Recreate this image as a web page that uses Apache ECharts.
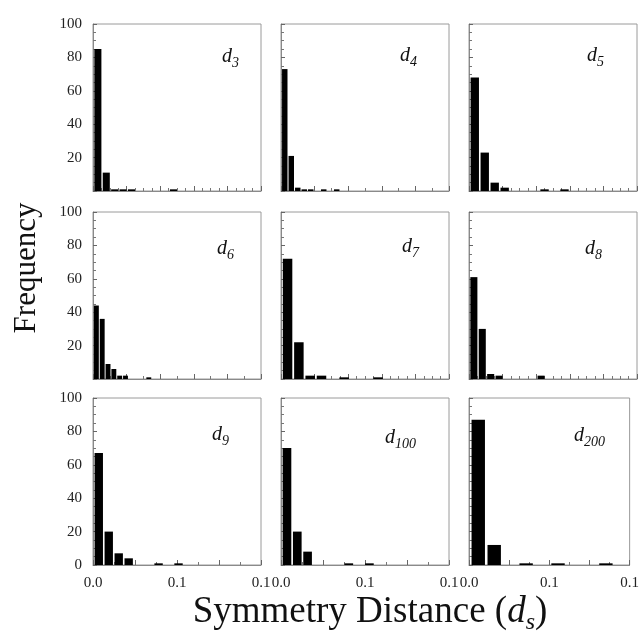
<!DOCTYPE html>
<html>
<head>
<meta charset="utf-8">
<script src="https://cdn.jsdelivr.net/npm/echarts@6/dist/echarts.min.js"></script>
<style>html,body{margin:0;padding:0;background:#fff}#c{width:642px;height:638px}</style>
</head>
<body>
<div id="c"></div>
<script>
// ---- data ----
const panelSubs = ['3', '4', '5', '6', '7', '8', '9', '100', '200'];
const binWidths = [0.0075, 0.0058, 0.0089, 0.0052, 0.0101, 0.0075, 0.0089, 0.0092, 0.0149];
const d3 = [85, 11, 1, 1, 1, 0, 0, 0, 0, 1];
const d4 = [73, 21, 2, 1, 1, 0, 1, 0, 1];
const d5 = [68, 23, 5, 2, 0, 0, 0, 1, 0, 1];
const d6 = [44, 36, 9, 6, 2, 2, 0, 0, 0, 1];
const d7 = [72, 22, 2, 2, 0, 1, 0, 0, 1];
const d8 = [61, 30, 3, 2, 0, 0, 0, 0, 2];
const d9 = [67, 20, 7, 4, 0, 0, 1, 0, 1];
const d100 = [70, 20, 8, 0, 0, 0, 1, 0, 1];
const d200 = [87, 12, 0, 1, 0, 1, 0, 0, 1];
const counts = [d3, d4, d5, d6, d7, d8, d9, d100, d200];
const xMin = 0, xMax = 0.15;
const xLabelValues = [0, 0.075, 0.15];
const xTickLabels = ['0.0', '0.1', '0.1'];
const yMin = 0, yMax = 100, yInterval = 20;
const xTickIntervals = [0.03, 0.03, 0.03, 0.03, 0.03, 0.03, 0.0375, 0.0375, 0.0375];
const xMinorSplits = [4, 2, 4, 2, 4, 4, 2, 2, 2];

// ---- layout ----
const colLeft = [93, 281, 469];
const rowTop = [24, 212, 398];
const pw = 168, ph = 167;
const labelPos = [[129, 34], [119, 33], [118, 33], [124, 38], [121, 36], [116, 38], [119, 38], [104, 41], [105, 39]];
const serif = 'Liberation Serif';

const grids = [], xAxes = [], yAxes = [], series = [], graphics = [];
for (let k = 0; k < 9; k++) {
  const r = Math.floor(k / 3), c = k % 3;
  grids.push({left: colLeft[c], top: rowTop[r], width: pw, height: ph, show: true,
    borderColor: '#9a9a9a', borderWidth: 1, backgroundColor: 'transparent'});
  xAxes.push({
    type: 'value', gridIndex: k, min: xMin, max: xMax, interval: xTickIntervals[k],
    axisLine: {show: true, onZero: false, lineStyle: {color: '#8a8a8a', width: 1}},
    axisTick: {show: true, inside: true, length: 5, lineStyle: {color: '#666'}},
    minorTick: {show: true, splitNumber: xMinorSplits[k], length: 3, lineStyle: {color: '#777'}},
    splitLine: {show: false}, minorSplitLine: {show: false},
    axisLabel: {show: r === 2, customValues: xLabelValues,
      formatter: v => xTickLabels[xLabelValues.findIndex(t => Math.abs(t - v) < 1e-9)] || '',
      fontFamily: serif, fontSize: 15, color: '#222', margin: 11}
  });
  yAxes.push({
    type: 'value', gridIndex: k, min: yMin, max: yMax, interval: yInterval,
    axisLine: {show: true, lineStyle: {color: '#8a8a8a', width: 1}},
    axisTick: {show: true, inside: true, length: 4, lineStyle: {color: '#666'}},
    minorTick: {show: true, splitNumber: 4, length: 3, lineStyle: {color: '#777'}},
    splitLine: {show: false}, minorSplitLine: {show: false},
    axisLabel: {show: c === 0, showMinLabel: r === 2, fontFamily: serif, fontSize: 15,
      color: '#222', margin: 11}
  });
  const w = binWidths[k];
  series.push({
    type: 'custom', xAxisIndex: k, yAxisIndex: k, clip: true,
    data: counts[k].map((v, i) => [i, v]),
    renderItem: function (params, api) {
      const i = api.value(0), v = api.value(1);
      const p0 = api.coord([i * w, v]);
      const p1 = api.coord([(i + 1) * w, 0]);
      const bw = p1[0] - p0[0];
      return {type: 'rect', shape: {x: p0[0] + bw * 0.16, y: p0[1], width: bw * 0.84, height: p1[1] - p0[1]},
        style: {fill: '#000'}};
    }
  });
  graphics.push({
    type: 'text', x: colLeft[c] + labelPos[k][0], y: rowTop[r] + labelPos[k][1],
    style: {
      text: '{i|d}{s|' + panelSubs[k] + '}',
      align: 'left', verticalAlign: 'middle',
      rich: {
        i: {fontFamily: serif, fontStyle: 'italic', fontSize: 20, lineHeight: 22, verticalAlign: 'top', fill: '#111'},
        s: {fontFamily: serif, fontStyle: 'italic', fontSize: 14, lineHeight: 14, padding: [9, 0, 0, 0], verticalAlign: 'top', fill: '#111'}
      }
    }
  });
}

graphics.push({
  type: 'text', x: 27, y: 268, rotation: Math.PI / 2,
  style: {text: 'Frequency', fontFamily: serif, fontSize: 31, fill: '#111', align: 'center', verticalAlign: 'middle'}
});
graphics.push({
  type: 'text', x: 370, y: 614,
  style: {
    text: '{n|Symmetry Distance (}{i|d}{s|s}{n|)}',
    align: 'center', verticalAlign: 'middle',
    rich: {
      n: {fontFamily: serif, fontSize: 37, lineHeight: 40, verticalAlign: 'top', fill: '#111'},
      i: {fontFamily: serif, fontStyle: 'italic', fontSize: 37, lineHeight: 40, verticalAlign: 'top', fill: '#111'},
      s: {fontFamily: serif, fontStyle: 'italic', fontSize: 24, lineHeight: 24, padding: [17, 0, 0, 0], verticalAlign: 'top', fill: '#111'}
    }
  }
});

const chart = echarts.init(document.getElementById('c'), null, {renderer: 'canvas'});
chart.setOption({
  animation: false,
  backgroundColor: '#fff',
  grid: grids, xAxis: xAxes, yAxis: yAxes, series: series, graphic: graphics
});
</script>
</body>
</html>
